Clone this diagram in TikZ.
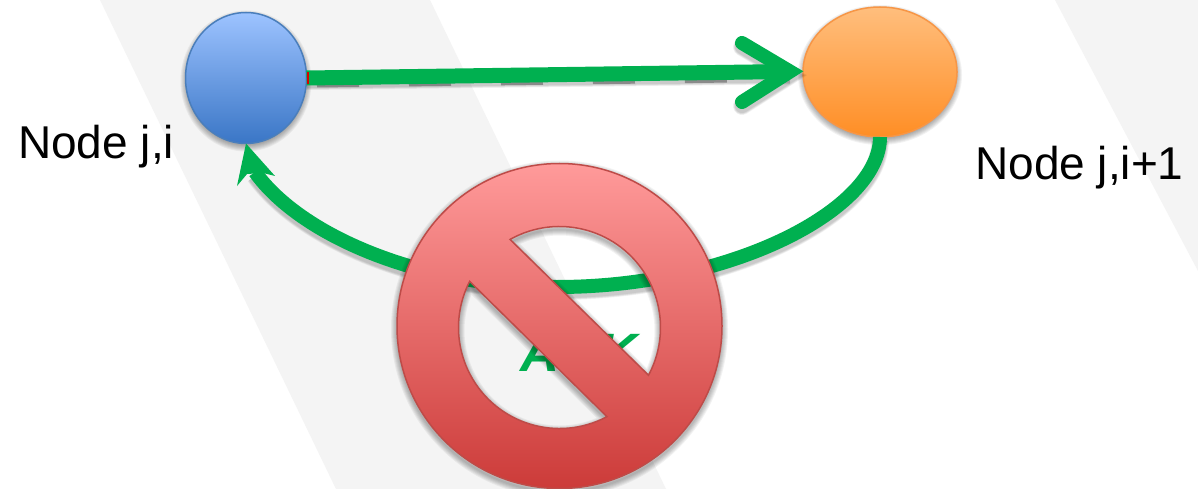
\documentclass[tikz,border=0pt]{standalone}
\usepackage{fontspec}
\setmainfont{Liberation Sans}
\usetikzlibrary{shapes.geometric}
\definecolor{bandgray}{HTML}{F4F4F4}
\definecolor{ackgreen}{HTML}{00B050}
\definecolor{blueTop}{HTML}{9DC3FF}
\definecolor{blueBot}{HTML}{3A76C6}
\definecolor{blueEdge}{HTML}{4A7EBB}
\definecolor{orTop}{HTML}{FFBE7D}
\definecolor{orBot}{HTML}{FF8E25}
\definecolor{orEdge}{HTML}{F79646}
\definecolor{redTop}{HTML}{FF9A9A}
\definecolor{redBot}{HTML}{CC3B39}
\definecolor{redEdge}{HTML}{BE4B48}
\tikzset{
  bubble/.style={ellipse,inner sep=0pt,outer sep=0pt,line width=1.5pt},
  label text/.style={inner sep=0pt,anchor=base west,font=\fontsize{46}{46}\selectfont,text=black},
  greenline/.style={draw=ackgreen,line width=14pt},
  softline/.style={draw=black,opacity=.045},
}
\newcommand{\softell}[4]{%
  \foreach \k in {0,1,2,3,4,5,6}{\fill[black,opacity=.05] (#1,#2+3) ellipse [x radius=#3+\k-1,y radius=#4+\k-1];}}
\newcommand{\ringpath}{(0,1.5) circle[radius=162.5]
  (119.3:101) arc[start angle=119.3,end angle=-28.2,radius=101] -- cycle
  (-62:101) arc[start angle=-62,end angle=-207.2,radius=101] -- cycle}
\begin{document}
\begin{tikzpicture}[x=1pt,y=-1pt]
\useasboundingbox (0,0) rectangle (1198,489);
\clip (0,0) rectangle (1198,489);
\fill[white] (0,0) rectangle (1198,489);
% background bands
\fill[bandgray] (100,0) -- (430,0) -- (666,489) -- (336,489) -- cycle;
\fill[bandgray] (1055,0) -- (1198,0) -- (1198,271) -- cycle;
% text under the sign
\node[inner sep=0pt,anchor=base,font=\fontsize{54}{54}\selectfont\bfseries\itshape,text=ackgreen] (ack) at (579,371) {ACK};
\node[label text] (lefttext) at (18,159) {Node j,i};
\node[label text] (righttext) at (975,179) {Node j,i+1};
% node shadows
\softell{246}{78}{60.5}{65.5}
\softell{880}{72}{77}{65}
% nodes
\node[bubble,draw=blueEdge,top color=blueTop,bottom color=blueBot,minimum width=121pt,minimum height=131pt] (nodeji) at (246,78) {};
\node[bubble,draw=orEdge,top color=orTop,bottom color=orBot,minimum width=154pt,minimum height=130pt] (nodejk) at (880,72) {};
% helper points
\coordinate (vertex) at (790,71.5);
\coordinate (barbA) at (742,43);
\coordinate (barbB) at (742,102);
\coordinate (backmid) at (557,287);
\coordinate (headend) at (255,172);
% connector shadows
\foreach \w in {14,15,16,17,18}{
  \draw[softline,line width=\w pt] ([yshift=-4pt]nodejk.south) .. controls (880,214) and (730,291) .. (557,291) .. controls (420,291) and (300,239) .. (255,176);
  \draw[softline,line width=\w pt,line cap=round,miter limit=10] (742,47) -- (790,75.5) -- (742,106);
  \draw[softline,line width=\w pt] (307,81) -- (790,75.5);
}
\draw[black!70,opacity=.5,line width=3pt,dash pattern=on 42pt off 50pt] (317,86) -- (735,81);
% connectors
\draw[greenline,line width=15pt] (nodeji.east) -- (vertex);
\draw[greenline,line cap=round,line join=miter,miter limit=10] (barbA) -- (vertex) -- (barbB);
\draw[greenline] (nodejk.south) .. controls (880,210) and (730,287) .. (backmid) .. controls (420,287) and (300,235) .. (headend);
\fill[ackgreen] (nodeji.south) -- (275,176) -- (263,173) -- (247,174) -- (237,186) -- cycle;
\fill[red!85!black] ([yshift=6pt]nodeji.east) rectangle ([xshift=2pt,yshift=-6pt]nodeji.east);
% prohibition sign
\begin{scope}[shift={(559.5,327.5)},y=1pt]
  \begin{scope}[yshift=-3pt]
    \foreach \w in {2,4,6,8,10,12}{\draw[black,opacity=.05,line width=\w pt] \ringpath;}
  \end{scope}
  \path[even odd rule,draw=redEdge,line width=1.5pt,top color=redTop,bottom color=redBot] \ringpath;
\end{scope}
\end{tikzpicture}
\end{document}
